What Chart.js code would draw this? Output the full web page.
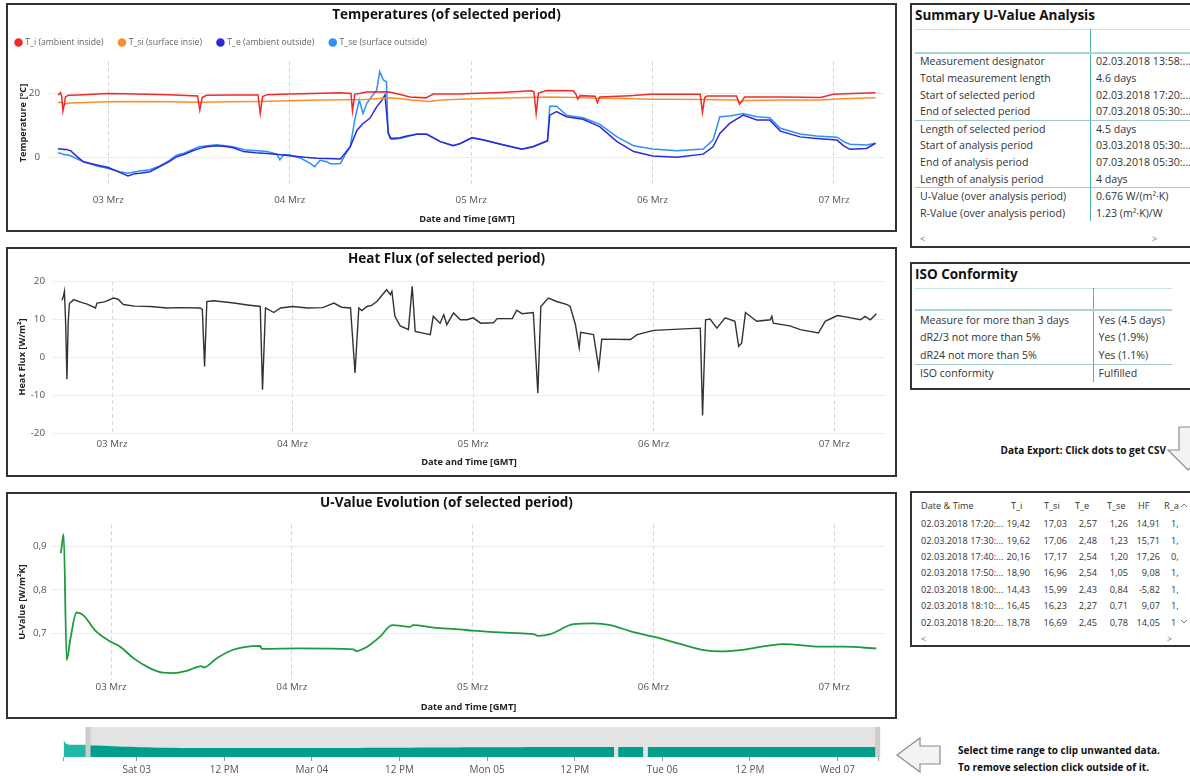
<!DOCTYPE html>
<html lang="de">
<head>
<meta charset="utf-8">
<title>U-Value Analysis</title>
<script src="https://cdn.jsdelivr.net/npm/chart.js@4.4.1/dist/chart.umd.min.js"></script>
<style>
  html, body { margin:0; padding:0; width:1190px; height:776px; overflow:hidden; background:#fff; }
  body { position:relative; font-family:"Segoe UI","Open Sans",sans-serif; color:#333; }
  .panel { position:absolute; box-sizing:border-box; border:2px solid #333; background:#fff; overflow:hidden; }
  .panel canvas { position:absolute; left:0; top:0; }
  .box { position:absolute; box-sizing:border-box; border:2px solid #333; border-right:none; background:#fff; overflow:hidden; }
  .boxTitle { position:absolute; left:3px; font-size:13.5px; font-weight:bold; color:#111; white-space:nowrap; line-height:16px; }
  table.kv { position:absolute; left:3px; border-collapse:collapse; table-layout:fixed; font-size:10.6px; color:#333; }
  table.kv td { padding:0 0 0 5px; white-space:nowrap; overflow:hidden; box-sizing:border-box; }
  table.kv td.k { border-right:1px solid #52b5ab; }
  table.kv tr.hd td { border-top:1px solid #bfe6e2; border-bottom:2px solid #a5d6d0; }
  table.kv tr.sep td { border-bottom:1px solid #9fcac5; }
  table.dt { position:absolute; left:3px; top:2px; border-collapse:collapse; table-layout:fixed; font-size:9.2px; color:#333; }
  table.dt th { font-weight:normal; text-align:left; height:20.5px; padding:0; white-space:nowrap; overflow:hidden; }
  table.dt td { height:16.4px; padding:0; white-space:nowrap; overflow:hidden; text-align:right; }
  table.dt th:nth-child(1), table.dt td:nth-child(1) { padding-left:6px; text-align:left; }
  table.dt th:nth-child(2) { padding-left:5px; } table.dt td:nth-child(2) { padding-right:7px; }
  table.dt th:nth-child(3) { padding-left:7px; } table.dt td:nth-child(3) { padding-right:4px; }
  table.dt th:nth-child(4) { padding-left:4px; } table.dt td:nth-child(4) { padding-right:4px; }
  table.dt th:nth-child(5) { padding-left:6px; } table.dt td:nth-child(5) { padding-right:4px; }
  table.dt th:nth-child(6) { padding-left:6px; } table.dt td:nth-child(6) { padding-right:4px; }
  table.dt th:nth-child(7) { padding-left:0px; } table.dt td:nth-child(7) { padding-left:7px; text-align:left; }
  .glyph { position:absolute; font-size:9px; color:#777; line-height:10px; }
  .note { position:absolute; font-size:10px; font-weight:bold; color:#111; white-space:nowrap; line-height:12px; }
  svg { position:absolute; overflow:visible; }
</style>
</head>
<body>

<div class="panel" style="left:6px;top:3px;width:891px;height:229px"><canvas id="cTemp" width="887" height="225"></canvas></div>
<div class="panel" style="left:6px;top:247px;width:891px;height:230px"><canvas id="cFlux" width="887" height="226"></canvas></div>
<div class="panel" style="left:6px;top:492px;width:891px;height:227px"><canvas id="cU" width="887" height="223"></canvas></div>

<div class="box" style="left:910px;top:3px;width:290px;height:245px">
  <div class="boxTitle" style="top:2px">Summary U-Value Analysis</div>
  <table class="kv" id="sumTable" style="top:24px">
    <colgroup><col style="width:177px"><col style="width:110px"></colgroup>
    <tbody></tbody>
  </table>
  <div class="glyph" style="left:8px;top:229px">&lt;</div>
  <div class="glyph" style="left:240px;top:229px">&gt;</div>
</div>

<div class="box" style="left:910px;top:262px;width:290px;height:128px">
  <div class="boxTitle" style="top:1.5px">ISO Conformity</div>
  <table class="kv" id="isoTable" style="top:23.7px">
    <colgroup><col style="width:178px"><col style="width:79px"></colgroup>
    <tbody></tbody>
  </table>
</div>

<div class="note" style="right:24px;top:444px">Data Export: Click dots to get CSV</div>

<div class="box" style="left:910px;top:491px;width:290px;height:156px">
  <table class="dt" id="dtTable">
    <colgroup><col style="width:91px"><col style="width:31px"><col style="width:34px"><col style="width:30px"><col style="width:31px"><col style="width:32px"><col style="width:30px"></colgroup>
    <thead><tr></tr></thead>
    <tbody></tbody>
  </table>
  <div class="glyph" style="left:9px;top:141px">&lt;</div>
  <div class="glyph" style="left:255px;top:141px">&gt;</div>
</div>

<canvas id="cNav" width="900" height="54" style="position:absolute;left:0;top:722px"></canvas>
<div class="note" style="left:958px;top:744px">Select time range to clip unwanted data.</div>
<div class="note" style="left:958px;top:761px">To remove selection click outside of it.</div>

<svg style="left:0;top:0" width="1" height="1">
  <polygon points="1179,427 1197,427 1197,450 1208,450 1188,470 1168,450 1179,450" fill="#f3f3f3" stroke="#8c8c8c" stroke-width="1.2"/>
  <polygon points="897,755 920,738 920,746 940,746 940,764 920,764 920,772" fill="#f3f3f3" stroke="#8c8c8c" stroke-width="1.2"/>
  <polyline points="1181,507 1184,504 1187,507" fill="none" stroke="#777" stroke-width="1"/>
  <polyline points="1181,620 1184,623 1187,620" fill="none" stroke="#777" stroke-width="1"/>
</svg>

<script>
// ===================== DATA (hours relative to 03.03.2018 00:00 GMT) =====================
const X_MIN = -7.85, X_MAX = 102.75;
const dayTicks  = [0, 24, 48, 72, 96];
const dayLabels = ['03 Mrz', '04 Mrz', '05 Mrz', '06 Mrz', '07 Mrz'];
const tempTicks = [0, 20];
const fluxTicks = [-20, -10, 0, 10, 20];
const uTicks    = [0.7, 0.8, 0.9];

const tiHours  = [-6.67,-6.5,-6.33,-6.17,-6.0,-5.83,-5.67,-5.3,-4,-2,0,2,5,8,11.8,12.1,12.4,13,16,19.8,20.1,20.4,21,24,27,30.6,32.1,32.3,32.6,34.2,37,38.5,39.9,42,43,46.5,48,52,56,56.3,56.6,56.9,58,61.5,61.9,62.1,62.4,64.4,64.7,65.0,69,71.7,75,78.3,78.6,78.9,79.2,83.1,83.5,84.2,89.3,94.2,95.9,98.5,101.5];
const tiValues = [19.42,19.62,20.16,18.90,14.43,16.45,18.78,19.3,19.4,19.6,19.9,19.8,19.6,19.5,19.1,14.7,18.6,19.3,19.4,19.4,13.6,18.9,19.5,19.7,19.9,20.1,19.9,14.4,19.6,20.3,20.4,19.6,18.8,18.5,19.7,19.7,19.9,20.2,20.7,20.4,13.6,20.0,20.8,20.7,19.5,18.1,19.2,19.0,17.0,18.8,19.2,19.6,19.6,19.6,14.0,18.6,19.1,19.1,16.5,18.8,18.8,18.6,19.6,19.9,20.1];

const tsiHours  = [-6.67,-6.5,-6.33,-6.17,-6.0,-5.83,-5.67,-5,-2,0,5,10,12,16,20,24,28,32,34,37,38.5,40,42.5,44,46.5,50,54,58.4,62,65,68,71.7,75,78.3,81,83.3,83.6,84.2,89.3,94.2,97,101.5];
const tsiValues = [17.03,17.06,17.17,16.96,15.99,16.23,16.69,16.9,17.1,17.3,17.4,17.2,17.1,17.3,17.4,17.6,17.8,17.9,18.0,18.5,18.3,17.8,17.4,17.8,18.1,18.3,18.5,18.8,18.6,18.4,18.3,18.1,18.1,18.0,17.9,17.8,17.0,17.7,17.8,17.8,18.2,18.5];

const teHours  = [-6.67,-6.5,-6.33,-6.17,-6.0,-5.83,-5.67,-5.0,-4.2,-3.3,-1.5,0,1.5,2.6,3.5,4.2,5.5,6.8,8,9.05,10,11,12.1,13,14.3,15.5,16.5,17.9,19.5,21,22.5,24,26,27.6,29,30.7,31.1,32,32.9,33.7,34.6,35.5,36.2,36.6,37.05,37.3,38.6,39.5,40.8,42.1,43,43.9,45.6,46.5,48.1,49.6,52,54.7,56.2,58.1,58.4,59.3,60.6,62.8,65,67.3,69.5,72,75.2,78.7,80,80.9,82.2,84,85.8,87.5,88.9,91.5,93.7,96.4,97.3,98.1,100.3,101.5];
const teValues = [2.57,2.48,2.54,2.54,2.43,2.27,2.45,2.0,0.3,-1.5,-2.5,-3.3,-4.8,-5.9,-5.2,-5.1,-4.6,-3.0,-1.5,0.1,0.8,1.8,2.7,3.2,3.5,3.3,2.9,1.7,1.3,1.1,0.8,0.4,-0.1,-0.4,-0.5,-0.6,0.6,3.2,8.4,10.5,12.1,15.7,17.8,19.4,7.4,5.8,6.0,6.6,7.1,7.1,6.0,4.8,3.5,4.1,6.0,5.3,3.9,2.4,3.2,5.0,13.1,14.2,12.6,11.8,9.5,4.8,1.7,0.3,-0.1,0.9,3.2,7.4,10.5,13.1,11.6,11.6,8.1,6.3,5.8,5.3,3.5,2.4,2.7,4.3];

const tseHours  = [-6.67,-6.5,-6.33,-6.17,-6.0,-5.83,-5.67,-5.0,-3.3,-1.5,0,1.5,2.6,4.2,5.5,6.8,8,9,10,12,14.3,15.5,16.5,18,21,22.3,22.7,23.2,24,25.5,26.7,27.3,28,28.9,29.5,30.7,31.3,32,32.6,33.2,33.7,34.2,34.8,35.5,35.9,36.4,36.8,37.0,37.5,38.6,40.8,42.1,43.9,45.6,46.5,48.1,49.6,52,54.7,56.2,58.1,58.4,59.3,60.6,62.8,65,67.3,69.5,72,75.2,78.7,80,80.9,82.2,84,85.8,87.5,88.9,91.5,93.7,96.4,97.3,98.1,100.3,101.5];
const tseValues = [1.26,1.23,1.20,1.05,0.84,0.71,0.78,0.4,-1.5,-2.8,-3.6,-4.6,-5.1,-4.4,-4.0,-2.8,-1.2,0.6,1.2,3.2,3.8,3.5,3.2,2.3,1.7,0.9,-0.9,0.8,0.6,-0.4,-2.0,-3.0,-1.0,-1.5,-2.2,-2.0,0.6,3.2,11.6,17.8,13.6,16.8,18.8,20.9,26.7,24.1,23.5,7.6,5.5,5.8,7.2,7.2,4.9,3.6,4.2,6.1,5.4,4.0,2.5,3.3,5.2,15.9,15.9,13.1,12.3,10.3,6.3,3.5,2.5,2.0,2.5,5.3,12.6,12.8,13.6,12.6,12.3,9.0,7.2,6.6,6.2,4.8,4.0,3.75,4.3];

const hfHours  = [-6.67,-6.5,-6.33,-6.17,-6.0,-5.83,-5.67,-5.1,-4,-3.3,-2.2,-2.0,-1,0.2,0.8,1.5,3,5.1,7.3,9,11.7,12.0,12.3,12.6,13.5,16.2,18,19.7,20.0,20.4,21.5,22.4,24,26,28,29.5,30.5,31.7,32.3,32.8,33.2,33.9,34.5,35.2,36.5,37.0,37.2,37.6,38.3,39.2,39.4,39.9,40.3,41.5,42.3,42.7,43.6,44.1,44.5,45.4,46.3,47.2,48,49,50.7,51.2,53.2,53.8,54.5,56,56.6,57,58,59.1,60.5,60.9,61.6,62.1,62.3,64,64.7,65.1,68.9,69.8,72,76,78.2,78.5,78.9,79.5,80.4,81.5,82.8,83.3,83.7,84.2,85.7,87.5,87.7,87.9,90.1,91.5,93.9,94.8,96.4,97.7,99.5,100.1,100.8,101.6];
const hfValues = [14.91,15.71,17.26,9.08,-5.82,9.07,14.05,15.1,14.3,13.9,12.9,14.2,14.5,15.5,15.2,13.8,13.4,13.3,12.9,13.0,12.9,12.5,-2.5,14.6,14.8,14.2,13.7,13.3,-8.6,12.9,11.7,12.9,13.3,12.9,13.0,14.2,13.1,12.9,-4.2,12.9,12.2,13.3,13.6,14.6,17.7,16.4,17.3,10.7,8.2,7.4,7.2,18.6,6.7,6.2,5.9,10.7,8.9,11.1,8.5,11.6,9.8,9.8,10.3,8.9,9.0,10.1,10.1,12.3,11.4,11.7,-9.5,13.3,15.5,14.6,13.8,13.3,8.5,2.4,6.5,5.9,-2.9,4.7,4.6,5.9,7.0,7.4,7.6,-15.4,9.8,10.0,7.6,10.3,9.4,2.8,3.7,11.7,9.4,9.8,10.7,8.9,8.2,7.2,6.3,9.4,10.9,10.5,9.8,10.7,9.8,11.4];

const uHours  = [-6.67,-6.3,-5.9,-5.4,-4.6,-3.7,-2.1,-0.1,1.2,3,5.2,6.9,8.3,10,12,12.3,14,16.2,19.8,20,25.1,32.2,32.5,34,35.7,37.3,39.7,40.1,42.8,46.3,48,53,56.1,56.7,58.3,61.4,64,66.3,68.9,72,76,78.7,80.9,83.5,87.1,89.3,94.2,97.3,101.6];
const uValues = [0.885,0.929,0.638,0.688,0.748,0.742,0.706,0.681,0.669,0.642,0.619,0.609,0.608,0.613,0.624,0.621,0.642,0.662,0.671,0.664,0.665,0.663,0.659,0.669,0.692,0.719,0.715,0.719,0.713,0.709,0.706,0.701,0.698,0.694,0.698,0.721,0.723,0.719,0.705,0.692,0.673,0.661,0.658,0.661,0.671,0.675,0.669,0.669,0.665];

// overview (range selector) series
const NAV_MIN = -10.03, NAV_MAX = 101.55;
const selFrom = -6.67, selTo = 101.5;
const navTicks  = [NAV_MIN, 0, 12, 24, 36, 48, 60, 72, 84, 96, NAV_MAX];
const navLabels = ['', 'Sat 03', '12 PM', 'Mar 04', '12 PM', 'Mon 05', '12 PM', 'Tue 06', '12 PM', 'Wed 07', ''];
const ovOutHours  = [-10.03,-9.9,-9.7,-9.4,-8.5,-6.67];
const ovOutValues = [30.5,26,22.5,21,20.6,20.4];
const ovInHours  = [-6.67,-4,-1,2,6,12,24,36,48,60,65.4,65.7,65.95,69.4,69.7,70.0,84,96,101.5];
const ovInValues = [19.6,18.5,17.0,15.8,15.2,15.0,15.0,15.4,16.2,16.6,16.6,null,16.6,16.6,null,16.6,16.7,16.7,16.7];

// tables
const summaryLabels = ['Measurement designator','Total measurement length','Start of selected period','End of selected period','Length of selected period','Start of analysis period','End of analysis period','Length of analysis period','U-Value (over analysis period)','R-Value (over analysis period)'];
const summaryValues = ['02.03.2018 13:58:...','4.6 days','02.03.2018 17:20:...','07.03.2018 05:30:...','4.5 days','03.03.2018 05:30:...','07.03.2018 05:30:...','4 days','0.676 W/(m\u00b2\u00b7K)','1.23 (m\u00b2\u00b7K)/W'];
const summarySeps = [3, 7];
const isoLabels = ['Measure for more than 3 days','dR2/3 not more than 5%','dR24 not more than 5%','ISO conformity'];
const isoValues = ['Yes (4.5 days)','Yes (1.9%)','Yes (1.1%)','Fulfilled'];
const isoSeps = [2];
const exportHeaders = ['Date & Time','T_i','T_si','T_e','T_se','HF','R_a'];
const exportTimes = ['02.03.2018 17:20:...','02.03.2018 17:30:...','02.03.2018 17:40:...','02.03.2018 17:50:...','02.03.2018 18:00:...','02.03.2018 18:10:...','02.03.2018 18:20:...'];
const exportRa = ['1,','1,','0,','1,','1,','1,','1'];

// ===================== TABLES =====================
function fillKV(id, labels, values, seps, rowH, hdH) {
  const tb = document.querySelector('#' + id + ' tbody');
  const hd = document.createElement('tr'); hd.className = 'hd';
  hd.innerHTML = '<td class="k" style="height:' + hdH + 'px"></td><td></td>';
  tb.appendChild(hd);
  labels.forEach((l, i) => {
    const tr = document.createElement('tr');
    if (seps.includes(i)) tr.className = 'sep';
    const a = document.createElement('td'); a.className = 'k'; a.textContent = l; a.style.height = rowH + 'px';
    const b = document.createElement('td'); b.textContent = values[i];
    tr.appendChild(a); tr.appendChild(b); tb.appendChild(tr);
  });
}
fillKV('sumTable', summaryLabels, summaryValues, summarySeps, 16.9, 23);
fillKV('isoTable', isoLabels, isoValues, isoSeps, 18, 22);

const fmt = v => v.toFixed(2).replace('.', ',');
const hr = document.querySelector('#dtTable thead tr');
exportHeaders.forEach(h => { const th = document.createElement('th'); th.textContent = h; hr.appendChild(th); });
const dtb = document.querySelector('#dtTable tbody');
exportTimes.forEach((t, i) => {
  const tr = document.createElement('tr');
  [t, fmt(tiValues[i]), fmt(tsiValues[i]), fmt(teValues[i]), fmt(tseValues[i]), fmt(hfValues[i]), exportRa[i]].forEach(c => {
    const td = document.createElement('td'); td.textContent = c; tr.appendChild(td);
  });
  dtb.appendChild(tr);
});

// ===================== CHARTS =====================
const FONT = '"Segoe UI","Open Sans",sans-serif';
Chart.defaults.font.family = FONT;
const pts = (xs, ys) => xs.map((x, i) => ({ x: x, y: ys[i] }));

const legendShift = {
  id: 'legendShift',
  afterLayout(chart, args, o) {
    const L = chart.legend;
    if (!L || !o) return;
    L.left += o.dx || 0; L.right += o.dx || 0;
    L.top += o.dy || 0; L.bottom += o.dy || 0;
  }
};

function xScale(h, tickPad, titlePadBottom) {
  return {
    type: 'linear', min: X_MIN, max: X_MAX,
    afterBuildTicks: s => { s.ticks = dayTicks.map(v => ({ value: v })); },
    afterFit: s => { s.height = h; },
    ticks: { autoSkip: false, maxRotation: 0, padding: tickPad, color: '#555', font: { size: 9.8 },
             callback: v => { const i = dayTicks.indexOf(v); return i >= 0 ? dayLabels[i] : ''; } },
    grid: { color: '#d6d6d6', drawTicks: false },
    border: { display: false, dash: [4, 3] },
    title: { display: true, text: 'Date and Time [GMT]', color: '#222', font: { size: 9.2, weight: 'bold' },
             padding: { top: 0, bottom: titlePadBottom } }
  };
}
function yScale(min, max, ticks, w, tickPad, title, titlePad, cb) {
  return {
    min: min, max: max,
    afterBuildTicks: s => { s.ticks = ticks.map(v => ({ value: v })); },
    afterFit: s => { s.width = w; },
    ticks: { padding: tickPad, color: '#555', font: { size: 9.8 }, callback: cb || (v => String(v)) },
    grid: { color: '#ececec', drawTicks: false },
    border: { display: false },
    title: { display: true, text: title, color: '#222', font: { size: 9.2, weight: 'bold' },
             padding: { top: titlePad, bottom: 0 } }
  };
}
const baseOpts = { responsive: false, animation: false, events: [], devicePixelRatio: 1 };
const lineDs = (label, data, color, w) => ({ label, data, borderColor: color, backgroundColor: color,
  borderWidth: w, pointRadius: 0, fill: false, tension: 0 });

new Chart(document.getElementById('cTemp'), {
  type: 'line',
  data: { datasets: [
    lineDs('T_i (ambient inside)', pts(tiHours, tiValues), '#ef2a2a', 1.5),
    lineDs('T_si (surface insie)', pts(tsiHours, tsiValues), '#ff8b2c', 1.5),
    lineDs('T_e (ambient outside)', pts(teHours, teValues), '#2a2ad8', 1.5),
    lineDs('T_se (surface outside)', pts(tseHours, tseValues), '#2f8ff5', 1.5)
  ]},
  options: Object.assign({}, baseOpts, {
    layout: { padding: { left: 0, right: 10, top: 0, bottom: 0 } },
    plugins: {
      title: { display: true, text: 'Temperatures (of selected period)', color: '#111',
               font: { size: 13.5, weight: 'bold' }, padding: { top: 1.8, bottom: 3.4 } },
      legend: { display: true, position: 'top', align: 'start',
                labels: { usePointStyle: true, pointStyle: 'circle', boxWidth: 5, boxHeight: 5, padding: 16,
                          color: '#666', font: { size: 8.7 } } },
      tooltip: { enabled: false },
      legendShift: { dx: -8, dy: -4.2 }
    },
    scales: {
      x: xScale(45, 9.2, 5.4),
      y: yScale(-8.75, 30, tempTicks, 41, 9, 'Temperature [\u00b0C]', 9.4)
    }
  }),
  plugins: [legendShift]
});

new Chart(document.getElementById('cFlux'), {
  type: 'line',
  data: { datasets: [ lineDs('Heat Flux', pts(hfHours, hfValues), '#333333', 1.4) ] },
  options: Object.assign({}, baseOpts, {
    layout: { padding: { left: 0, right: 10, top: 0, bottom: 0 } },
    plugins: {
      title: { display: true, text: 'Heat Flux (of selected period)', color: '#111',
               font: { size: 13.5, weight: 'bold' }, padding: { top: 2.2, bottom: 13.6 } },
      legend: { display: false }, tooltip: { enabled: false }
    },
    scales: {
      x: xScale(42, 4.9, 7.4),
      y: yScale(-20, 20, fluxTicks, 45, 8, 'Heat Flux [W/m\u00b2]', 8.4)
    }
  })
});

new Chart(document.getElementById('cU'), {
  type: 'line',
  data: { datasets: [ Object.assign(lineDs('U-Value', pts(uHours, uValues), '#1f9a3c', 1.8), { cubicInterpolationMode: 'monotone' }) ] },
  options: Object.assign({}, baseOpts, {
    layout: { padding: { left: 0, right: 10, top: 0, bottom: 0 } },
    plugins: {
      title: { display: true, text: 'U-Value Evolution (of selected period)', color: '#111',
               font: { size: 13.5, weight: 'bold' }, padding: { top: 1.5, bottom: 12.6 } },
      legend: { display: false }, tooltip: { enabled: false }
    },
    scales: {
      x: xScale(37, 1.5, 4.4),
      y: yScale(0.5921, 0.9517, uTicks, 44, 5.3, 'U-Value [W/m\u00b2K]', 9.1, v => v.toFixed(1).replace('.', ','))
    }
  })
});

// range selector overview
const selection = {
  id: 'selection',
  beforeDatasetsDraw(chart, args, o) {
    const { ctx, chartArea: a, scales: { x } } = chart;
    const x0 = x.getPixelForValue(o.from), x1 = x.getPixelForValue(o.to);
    ctx.save(); ctx.fillStyle = '#e3e3e3';
    ctx.fillRect(x0 - 2.5, a.top, x1 - x0 + 5, a.bottom - a.top);
    ctx.restore();
  },
  afterDatasetsDraw(chart, args, o) {
    const { ctx, chartArea: a, scales: { x } } = chart;
    const x0 = x.getPixelForValue(o.from), x1 = x.getPixelForValue(o.to);
    ctx.save(); ctx.fillStyle = '#cdcdcd';
    ctx.fillRect(x0 - 2.5, a.top, 5, a.bottom - a.top);
    ctx.fillRect(x1 - 2.5, a.top, 5, a.bottom - a.top);
    ctx.restore();
  }
};
new Chart(document.getElementById('cNav'), {
  type: 'line',
  data: { datasets: [
    { data: pts(ovOutHours, ovOutValues), fill: 'origin', backgroundColor: '#22b8a6', borderColor: '#22b8a6', borderWidth: 0, pointRadius: 0, tension: 0.3 },
    { data: pts(ovInHours, ovInValues), fill: 'origin', backgroundColor: '#009e8b', borderColor: '#009e8b', borderWidth: 0, pointRadius: 0, tension: 0.3 }
  ]},
  options: Object.assign({}, baseOpts, {
    layout: { padding: { left: 63.5, right: 22, top: 5, bottom: 0 } },
    plugins: { legend: { display: false }, tooltip: { enabled: false }, selection: { from: selFrom, to: selTo } },
    scales: {
      x: { type: 'linear', min: NAV_MIN, max: NAV_MAX,
           afterBuildTicks: s => { s.ticks = navTicks.map(v => ({ value: v })); },
           afterFit: s => { s.height = 19; },
           ticks: { autoSkip: false, maxRotation: 0, padding: 3, color: '#555', font: { size: 10 },
                    callback: v => { const i = navTicks.indexOf(v); return i >= 0 ? navLabels[i] : ''; } },
           grid: { drawOnChartArea: false, drawTicks: true, tickLength: 4, color: '#999' },
           border: { display: false } },
      y: { display: false, min: 0, max: 50 }
    }
  }),
  plugins: [selection]
});
</script>
</body>
</html>
